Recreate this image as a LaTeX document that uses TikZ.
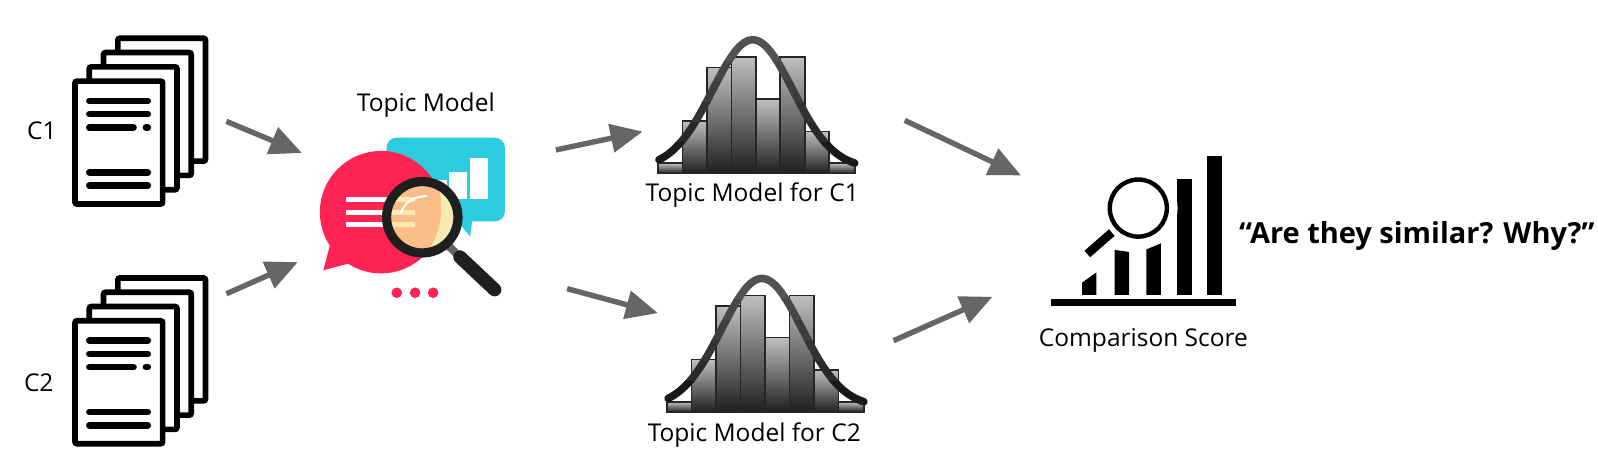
\documentclass[tikz,border=0pt]{standalone}
\usepackage{fontspec}
\setmainfont{Open Sans}
\usetikzlibrary{arrows.meta}
\definecolor{flow}{HTML}{666666}
\definecolor{bubblered}{HTML}{FF2353}
\definecolor{bubbleteal}{HTML}{2CCBE0}
\definecolor{lensorange}{HTML}{FBBE8B}
\definecolor{lensyellow}{HTML}{F8EBB0}
\tikzset{
  flowarrow/.style={draw=flow,line width=2.7pt,-{Triangle[length=16pt,width=14pt]}},
  label/.style={font=\fontsize{12.25}{14}\selectfont,inner sep=0pt,text=black},
  sheet/.style={draw=black,fill=white,line width=2.8pt,rounded corners=1pt},
  textline/.style={draw=black,line width=3.2pt,line cap=round},
  histbar/.style={draw=black!85,line width=0.8pt,top color=black!25,bottom color=black!88},
}
\newcommand{\docstack}[2]{%
  \begin{scope}[shift={(#1,#2)}]
    \foreach \d in {42,28,14,0}
      \draw[sheet] (73.5+\d,79.5-\d) rectangle (159.5+\d,200-\d);
    \foreach \y in {99,112,169,182}
      \draw[textline] (87.5,\y) -- (145,\y);
    \draw[textline] (87.5,125) -- (131,125);
    \draw[textline] (143,125) -- (145,125);
  \end{scope}}
\newcommand{\histo}[2]{%
  \begin{scope}[shift={(#1,#2)}]
    \foreach \a/\b/\t in {645/669/160,669/693/118.6,693/717/66,717/741/55.6,741/765/97,765/789/55.6,789/813/129,813/838/160}
      \shade[histbar] (\a,\t) rectangle (\b,170);
    \foreach \ya/\yb/\g in {30/60/68,60/80/72,80/100/76,100/120/80,120/140/84,140/175/90}{
      \begin{scope}
        \clip (630,\ya) rectangle (850,\yb);
        \draw[black!\g,line width=3.8pt,line cap=round,domain=646:838,samples=70,smooth]
          plot (\x,{165-126*exp(-(\x-738)*(\x-738)/(2*39.5*39.5))});
      \end{scope}}
  \end{scope}}
\begin{document}
\begin{tikzpicture}[x=0.51pt,y=-0.51pt]
\useasboundingbox (0,0) rectangle (1566.7,459.8);
\fill[white] (0,0) rectangle (1566.7,459.8);
% documents
\docstack{0}{0}
\docstack{0}{235}
\node[label] (c1) at (41,128) {C1};
\node[label] (c2) at (38,375) {C2};
% topic model icon
\node[label] (topic) at (417.5,103) {Topic Model};
\fill[bubbleteal,rounded corners=5pt] (379,135) rectangle (495,217);
\fill[bubbleteal] (448,216) -- (463,216) -- (461,232) -- cycle;
\fill[white] (422,176) rectangle (438,195);
\fill[white] (440,169) rectangle (458,195);
\fill[white] (461,155) rectangle (478.6,195);
\fill[bubblered] (373.6,208) circle[radius=60];
\fill[bubblered] (323.6,240) -- (317,265) -- (343,258) -- cycle;
\foreach \y in {195.5,208.5,220.5}
  \fill[white] (339,\y-2.5) rectangle (400,\y+2.5);
\draw[line width=4pt,black!60] (439.6,241) -- (451,252);
\draw[line cap=round,line width=6.7pt,black!88] (451,252) -- (485,284);
\fill[lensorange] (414,213) circle[radius=31];
\begin{scope}
  \clip (414,213) circle[radius=31];
  \fill[lensyellow] (429,180) .. controls (436,205) and (433,225) .. (420,246) -- (450,250) -- (450,180) -- cycle;
  \foreach \y in {195.5,208.5,220.5}
    \fill[lensyellow] (380,\y-2.5) rectangle (407,\y+2.5);
\end{scope}
\draw[white,line width=1pt,line cap=round] (393,209) .. controls (396,199) and (405,193) .. (418,192);
\draw[black!88,line width=4.6pt] (414,213) circle[radius=35];
\foreach \x in {389,407,424.6}
  \fill[bubblered] (\x,287) circle[radius=5.2];
% histograms
\histo{0}{0}
\histo{9}{234}
\node[label] (t1) at (737.5,191) {Topic Model for C1};
\node[label] (t2) at (739.5,427) {Topic Model for C2};
% score icon
\fill[black] (1030.4,293) rectangle (1212,299.7);
\fill[black] (1183.6,153) rectangle (1197.7,289);
\fill[black] (1154,175.5) rectangle (1168.5,289);
\fill[black] (1124,244.5) -- (1138,238.6) -- (1138,289) -- (1124,289) -- cycle;
\fill[black] (1092.8,245) -- (1107,247) -- (1107,289) -- (1092.8,289) -- cycle;
\fill[black] (1061,277) -- (1075,267) -- (1075,289) -- (1061,289) -- cycle;
\fill[white] (1116,204) circle[radius=38.5];
\draw[black,line width=2.2pt] (1116,204) circle[radius=28];
\draw[black,line width=4.3pt] (1066,249) -- (1090,228);
\node[label] (score) at (1121,334) {Comparison Score};
\node[inner sep=0pt,font=\fontsize{14.5}{18}\selectfont\bfseries] (q) at (1389,231) {“Are they similar? Why?”};
% connector ends
\coordinate (a1s) at (222,119); \coordinate (a1e) at (296,150);
\coordinate (a2s) at (222,288); \coordinate (a2e) at (292,257);
\coordinate (a3s) at (545,147); \coordinate (a3e) at (630,129);
\coordinate (a4s) at (556,283); \coordinate (a4e) at (645,307);
\coordinate (a5s) at (887,118); \coordinate (a5e) at (1001,172);
\coordinate (a6s) at (876,334); \coordinate (a6e) at (973,291);
\foreach \n in {1,...,6} \draw[flowarrow] (a\n s) -- (a\n e);
\end{tikzpicture}
\end{document}
